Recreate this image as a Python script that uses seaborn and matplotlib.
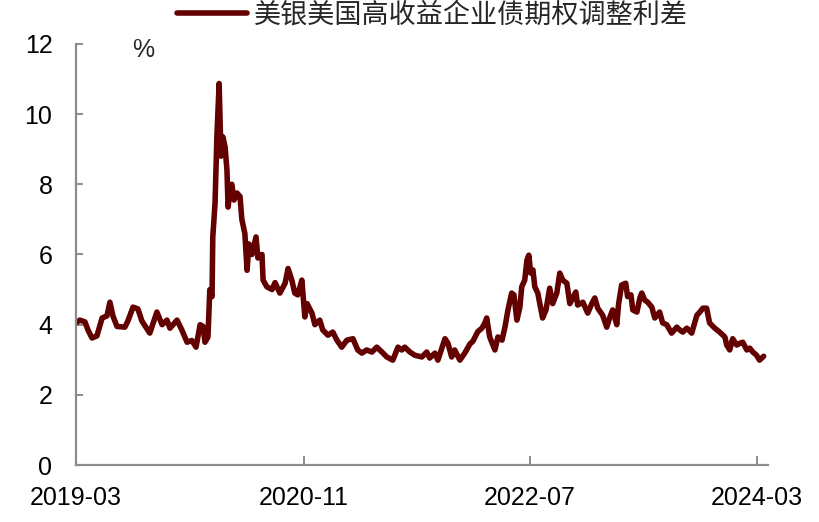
import pandas as pd
import numpy as np
import matplotlib
matplotlib.use('Agg')
import matplotlib.pyplot as plt
import matplotlib.dates as mdates
import seaborn as sns

# ICE BofA US high yield OAS
dates = [
    '2019-03-01', '2019-03-11', '2019-03-25', '2019-04-02', '2019-04-13', '2019-04-26',
    '2019-05-10', '2019-05-23', '2019-05-31', '2019-06-08', '2019-06-19', '2019-07-10',
    '2019-07-18', '2019-08-01', '2019-08-14', '2019-08-25', '2019-09-15', '2019-10-04',
    '2019-10-18', '2019-10-31', '2019-11-08', '2019-11-27', '2019-12-10', '2019-12-24',
    '2020-01-06', '2020-01-17', '2020-01-28', '2020-02-05', '2020-02-10', '2020-02-18',
    '2020-02-23', '2020-02-29', '2020-03-02', '2020-03-08', '2020-03-13', '2020-03-19',
    '2020-03-24', '2020-03-29', '2020-04-04', '2020-04-09', '2020-04-12', '2020-04-17',
    '2020-04-22', '2020-04-28', '2020-05-06', '2020-05-14', '2020-05-19', '2020-05-27',
    '2020-06-02', '2020-06-07', '2020-06-15', '2020-06-26', '2020-07-01', '2020-07-12',
    '2020-07-15', '2020-07-25', '2020-08-08', '2020-08-16', '2020-08-29', '2020-09-12',
    '2020-09-20', '2020-09-30', '2020-10-08', '2020-10-16', '2020-10-27', '2020-11-04',
    '2020-11-10', '2020-11-23', '2020-12-01', '2020-12-14', '2020-12-22', '2021-01-05',
    '2021-01-18', '2021-01-29', '2021-02-11', '2021-02-25', '2021-03-13', '2021-03-26',
    '2021-04-06', '2021-04-19', '2021-05-03', '2021-05-16', '2021-05-30', '2021-06-12',
    '2021-06-28', '2021-07-12', '2021-07-22', '2021-07-30', '2021-08-13', '2021-08-26',
    '2021-09-14', '2021-09-27', '2021-10-05', '2021-10-19', '2021-10-27', '2021-11-15',
    '2021-11-23', '2021-12-03', '2021-12-11', '2021-12-25', '2022-01-07', '2022-01-21',
    '2022-01-29', '2022-02-11', '2022-02-22', '2022-03-02', '2022-03-07', '2022-03-15',
    '2022-03-29', '2022-04-06', '2022-04-17', '2022-04-25', '2022-05-03', '2022-05-13',
    '2022-05-19', '2022-05-27', '2022-06-04', '2022-06-09', '2022-06-17', '2022-06-23',
    '2022-06-28', '2022-07-03', '2022-07-09', '2022-07-14', '2022-07-22', '2022-08-04',
    '2022-08-13', '2022-08-23', '2022-08-31', '2022-09-11', '2022-09-19', '2022-09-27',
    '2022-10-08', '2022-10-16', '2022-10-24', '2022-11-01', '2022-11-06', '2022-11-20',
    '2022-12-03', '2022-12-14', '2022-12-22', '2022-12-30', '2023-01-12', '2023-01-23',
    '2023-01-31', '2023-02-08', '2023-02-19', '2023-02-24', '2023-03-04', '2023-03-15',
    '2023-03-20', '2023-03-29', '2023-04-03', '2023-04-14', '2023-04-22', '2023-04-27',
    '2023-05-05', '2023-05-13', '2023-05-24', '2023-06-01', '2023-06-14', '2023-06-22',
    '2023-07-03', '2023-07-16', '2023-07-30', '2023-08-07', '2023-08-15', '2023-08-26',
    '2023-09-08', '2023-09-22', '2023-09-30', '2023-10-08', '2023-10-18', '2023-10-26',
    '2023-11-09', '2023-11-22', '2023-12-06', '2023-12-11', '2023-12-19', '2023-12-27',
    '2024-01-07', '2024-01-15', '2024-01-23', '2024-02-03', '2024-02-11', '2024-02-19',
    '2024-02-29', '2024-03-08', '2024-03-19',
]
spread = [
    4.05, 4.13, 4.08, 3.85, 3.62, 3.68,
    4.19, 4.25, 4.64, 4.25, 3.95, 3.93,
    4.10, 4.50, 4.45, 4.10, 3.76, 4.36,
    4.00, 4.13, 3.90, 4.13, 3.85, 3.50,
    3.55, 3.36, 4.00, 3.95, 3.50, 3.65,
    5.00, 4.80, 6.50, 7.45, 9.35, 10.87,
    8.80, 9.35, 9.06, 8.40, 7.35, 7.80,
    8.00, 7.55, 7.75, 7.65, 7.00, 6.60,
    5.55, 6.30, 6.00, 6.50, 5.90, 6.00,
    5.27, 5.08, 5.00, 5.20, 4.90, 5.18,
    5.60, 5.27, 4.90, 4.85, 5.27, 4.22,
    4.60, 4.33, 4.00, 4.13, 3.85, 3.70,
    3.79, 3.56, 3.36, 3.56, 3.60, 3.28,
    3.19, 3.28, 3.22, 3.36, 3.22, 3.08,
    2.99, 3.36, 3.28, 3.36, 3.22, 3.13,
    3.08, 3.22, 3.05, 3.19, 2.99, 3.60,
    3.47, 3.08, 3.28, 2.99, 3.19, 3.45,
    3.53, 3.80, 3.90, 4.05, 4.19, 3.65,
    3.28, 3.65, 3.56, 3.93, 4.42, 4.90,
    4.85, 4.13, 4.50, 5.08, 5.27, 5.84,
    5.98, 5.47, 5.56, 5.08, 4.90, 4.19,
    4.42, 5.04, 4.60, 4.90, 5.47, 5.27,
    5.18, 4.60, 4.76, 4.93, 4.56, 4.64,
    4.33, 4.60, 4.76, 4.47, 4.27, 3.93,
    4.20, 4.42, 4.00, 4.60, 5.13, 5.18,
    4.80, 4.85, 4.42, 4.36, 4.76, 4.90,
    4.70, 4.64, 4.50, 4.19, 4.36, 4.05,
    4.00, 3.76, 3.93, 3.85, 3.79, 3.90,
    3.76, 4.27, 4.36, 4.47, 4.47, 4.05,
    3.90, 3.79, 3.65, 3.42, 3.28, 3.60,
    3.42, 3.47, 3.50, 3.28, 3.33, 3.22,
    3.13, 2.99, 3.10,
]
tick_dates = ['2019-03-01', '2020-11-01', '2022-07-01', '2024-03-01']
y_ticks = [0, 2, 4, 6, 8, 10, 12]
series_name = '美银美国高收益企业债期权调整利差'

df = pd.DataFrame({'date': pd.to_datetime(dates), 'value': spread})

sns.set_theme(style='ticks')
plt.rcParams['font.family'] = ['Liberation Sans', 'Noto Sans CJK SC', 'DejaVu Sans']

fig = plt.figure(figsize=(8.2, 5.22), dpi=100)
ax = fig.add_axes([0.0927, 0.109, 0.844, 0.807])

sns.lineplot(data=df, x='date', y='value', ax=ax, color='#630000', linewidth=4.0,
             label=series_name, solid_joinstyle='round', solid_capstyle='round')

ax.set_ylim(0, 12)
ax.set_yticks(y_ticks)
ax.set_xlim(pd.Timestamp('2019-03-01'), pd.Timestamp('2024-03-31'))
ax.set_xticks(pd.to_datetime(tick_dates))
ax.xaxis.set_major_formatter(mdates.DateFormatter('%Y-%m'))
ax.set_xlabel('')
ax.set_ylabel('')

for side in ['top', 'right']:
    ax.spines[side].set_visible(False)
for side in ['left', 'bottom']:
    ax.spines[side].set_color('#8c8c8c')
    ax.spines[side].set_linewidth(1.6)

ax.tick_params(axis='y', direction='in', length=5, width=1.4, color='#8c8c8c',
               labelsize=18, pad=17, labelcolor='black')
ax.tick_params(axis='x', direction='in', length=6.5, width=1.4, color='#8c8c8c',
               labelsize=18, pad=15, labelcolor='black')

ax.text(0.097, 0.985, '%', transform=ax.transAxes, fontsize=18, ha='center', va='center')

ax.legend(loc='upper center', bbox_to_anchor=(0.527, 0.995), bbox_transform=fig.transFigure,
          frameon=False, fontsize=19.5, handlelength=2.6, handletextpad=0.25,
          borderaxespad=0, borderpad=0)

fig.savefig('out.png', dpi=100)
